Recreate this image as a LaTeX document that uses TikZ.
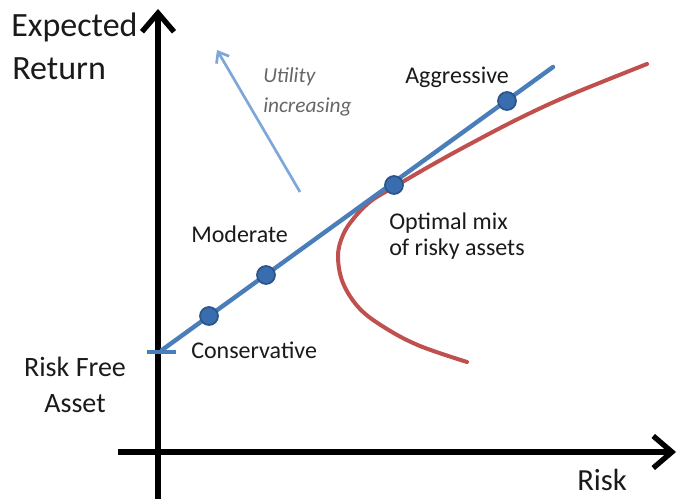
\documentclass[tikz,border=0pt]{standalone}
\usepackage{fontspec}
\setmainfont{Carlito}
\usetikzlibrary{arrows.meta}
\definecolor{cmlblue}{HTML}{4A7EBB}
\definecolor{frontred}{HTML}{C0504D}
\definecolor{dotblue}{HTML}{3A6DB0}
\definecolor{dotedge}{HTML}{2B5488}
\definecolor{utilblue}{HTML}{7EA6D8}
\definecolor{txt}{HTML}{1A1A1A}
\tikzset{
  axis/.style={line width=4.5pt, draw=black, -{Straight Barb[length=14pt,width=24pt,line width=4pt]}},
  lbl/.style={inner sep=0pt, font=\fontsize{18}{19}\selectfont, text=txt, align=left},
  big/.style={inner sep=0pt, font=\fontsize{25.5}{32}\selectfont, text=txt},
  dotnode/.style={circle, inner sep=0pt, minimum size=13.5pt, fill=dotblue, draw=dotedge, line width=1.3pt},
}
\begin{document}
\begin{tikzpicture}[x=0.75pt,y=-0.75pt]
\useasboundingbox (0,0) rectangle (678,499);
% axes
\coordinate (ybot) at (158,499);
\coordinate (ytop) at (158,9);
\coordinate (xl) at (118,452);
\coordinate (xr) at (676,452);
\draw[axis] (ybot) -- (ytop);
\draw[axis] (xl) -- (xr);
% efficient frontier
\draw[frontred, line width=3pt, line cap=round] plot[smooth, tension=0.6] coordinates {
 (467,362) (420,346) (387,329) (360,309) (343,283) (338,256) (343,235) (354,218) (371,201) (394,187)
 (430,166) (470,144) (520,118) (570,95) (647,64)};
% capital market line
\coordinate (cmlA) at (162,350);
\coordinate (cmlB) at (553,67);
\coordinate (rfL) at (147,352);
\coordinate (rfR) at (176,352);
\draw[cmlblue, line width=3.3pt, line cap=round] (cmlA) -- (cmlB);
\draw[cmlblue, line width=2.4pt] (rfL) -- (rfR);
% utility arrow
\coordinate (uA) at (300,192);
\coordinate (uB) at (217,50);
\draw[utilblue, line width=2pt, -{Straight Barb[length=7pt,width=11pt]}] (uA) -- (uB);
% dots
\node[dotnode] (cons) at (209,316) {};
\node[dotnode] (mod) at (266,275) {};
\node[dotnode] (opt) at (394,185) {};
\node[dotnode] (agg) at (507,101) {};
% texts
\node[big, anchor=base west] (exp) at (11,37) {Expected};
\node[big, anchor=base west] (ret) at (12,80) {Return};
\node[inner sep=0pt, font=\fontsize{23}{27}\selectfont, text=txt, anchor=base west] (risk) at (577,490) {Risk};
\node[inner sep=0pt, font=\fontsize{21}{27}\selectfont, text=txt, align=center] (rf) at (75,385) {Risk Free\\Asset};
\node[lbl, anchor=west] (lcons) at (191,350) {Conservative};
\node[lbl, anchor=west] (lmod) at (191,234) {Moderate};
\node[lbl, anchor=west] (lagg) at (405,77) {Aggressive};
\node[lbl, anchor=west] (lopt) at (389,236) {Optimal mix\\of risky assets};
\node[inner sep=0pt, font=\fontsize{16}{23}\selectfont\itshape, text=black!60, align=left, anchor=west] (util) at (263,92) {Utility\\increasing};
\end{tikzpicture}
\end{document}
